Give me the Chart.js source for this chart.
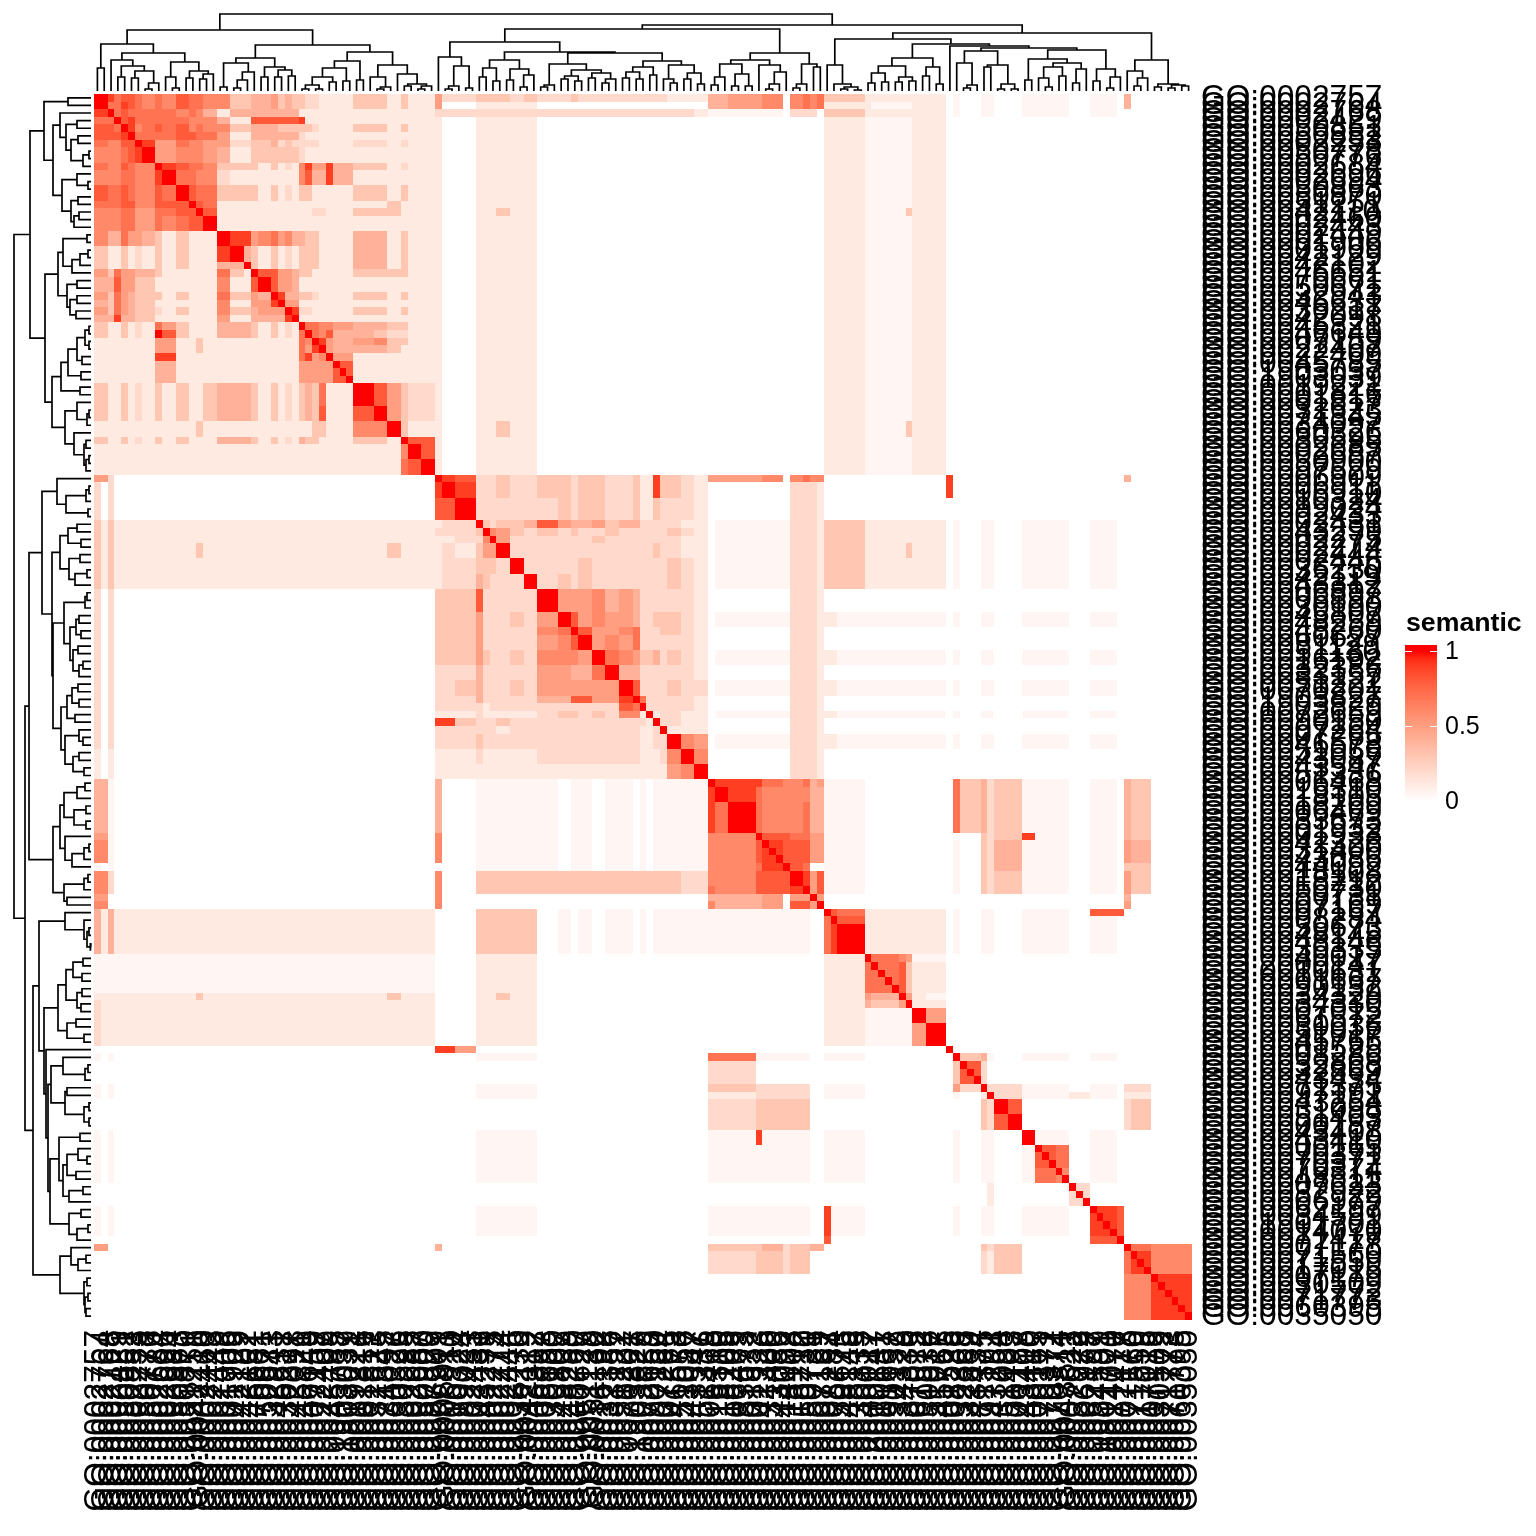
<!DOCTYPE html>
<html>
<head>
<meta charset="utf-8">
<title>semantic</title>
<script src="https://cdn.jsdelivr.net/npm/chart.js@4"></script>
<style>
  html, body { margin: 0; background: #fff; }
  canvas { display: block; }
</style>
</head>
<body>
<canvas id="heatChart" width="1536" height="1536"></canvas>
<script>
// GO ids, same order on rows and columns (most are overlapped in the picture, so estimated)
const goTerms = [
  'GO:0002757','GO:0002764','GO:0002768','GO:0002429','GO:0050851','GO:0050852','GO:0002253','GO:0050778','GO:0050776','GO:0002684',
  'GO:0002696','GO:0002694','GO:0050863','GO:0050870','GO:0051251','GO:0042110','GO:0002460','GO:0002443','GO:0002449','GO:0001906',
  'GO:0001909','GO:0042129','GO:0042102','GO:0046651','GO:0070661','GO:0050671','GO:0032943','GO:0046631','GO:0030217','GO:0042098',
  'GO:0045321','GO:0046649','GO:0007159','GO:0022407','GO:0022409','GO:0045785','GO:1903037','GO:1903039','GO:0019221','GO:0001816',
  'GO:0001817','GO:0032623','GO:0071345','GO:0034097','GO:0060326','GO:0030595','GO:0002685','GO:0002687','GO:0050900','GO:0097529',
  'GO:0006909','GO:0006911','GO:0006910','GO:0010324','GO:0099024','GO:0002433','GO:0002431','GO:0043299','GO:0002275','GO:0002274',
  'GO:0002444','GO:0002446','GO:0036230','GO:0042119','GO:0043312','GO:0006897','GO:0006898','GO:0030100','GO:0045807','GO:0048259',
  'GO:0048260','GO:0060627','GO:0051129','GO:0051130','GO:0016192','GO:0032386','GO:0033157','GO:0051222','GO:0070201','GO:1903827',
  'GO:1903829','GO:0072659','GO:0090150','GO:0007264','GO:0007265','GO:0046578','GO:0051056','GO:0043087','GO:0043547','GO:0051336',
  'GO:0006468','GO:0016310','GO:0018105','GO:0018209','GO:0006469','GO:0033673','GO:0001932','GO:0001933','GO:0042326','GO:0031400',
  'GO:0043086','GO:0044092','GO:0018108','GO:0018212','GO:0050730','GO:0050731','GO:0007169','GO:0007167','GO:0008284','GO:0050673',
  'GO:0048145','GO:0048146','GO:0030335','GO:0040017','GO:2000147','GO:0010631','GO:0001667','GO:0090132','GO:0034329','GO:0034330',
  'GO:0007015','GO:0061572','GO:0030036','GO:0051017','GO:0045765','GO:0001525','GO:0008286','GO:0032868','GO:0032869','GO:0043434',
  'GO:0071375','GO:0097191','GO:0043254','GO:0031098','GO:0051403','GO:0000187','GO:0043408','GO:0043410','GO:0000165','GO:0070371',
  'GO:0070372','GO:0070374','GO:0048511','GO:0007623','GO:0032922','GO:0006979','GO:0062197','GO:0034599','GO:1901701','GO:0014070',
  'GO:0071417','GO:0007178','GO:0071560','GO:0071559','GO:0017015','GO:0007179','GO:0030509','GO:0071772','GO:0071773','GO:0060395',
  'GO:0035050'
];

// where each band of cells starts, in cell numbers. last band runs to goTerms.length
const bandBreaks = [
  0,1,2,3,4,5,6,7,9,10,12,14,15,16,18,20,22,23,24,26,27,28,29,30,31,32,33,34,35,38,41,43,45,46,48,
  50,51,53,56,57,58,59,61,63,65,68,70,71,73,75,77,79,80,81,82,83,84,86,88,
  90,91,93,97,98,101,102,104,105,106,
  107,108,109,113,114,118,119,120,122,
  125,126,127,130,131,132,134,136,138,141,143,146,150,
  151,152,155
];

// semantic value for each code used in the band rows
const levelCodes = ['.','0','1','2','3','4','5','6','7','8','9','X'];
const levelValues = [0,0.05,0.11,0.2,0.3,0.4,0.5,0.6,0.7,0.8,0.9,1];

const w32 = '................................';
const o32 = '11111111111111111111111111111111';
const z32 = '00000000000000000000000000000000';
const a59 = '11111111131111111111111111113111';
const eFaint = '.0.00..000.0.';
const tailA = '1..111111 ............... .......... 111000011 ............. ...';
const tailSpot = '1..111311 ............... .......... 111000311 ............. ...';
const t53 = '......2221 ......... ............. ...';
const t56 = '.000002221 333111111 ' + eFaint + ' ...';
const t59 = '.000002221 333111311 ' + eFaint + ' ...';
const t65f = '.000002221 110000000 ' + eFaint + ' ...';
const b56 = '...000000' + '...............';
const b90 = '00000 00.00.00 .0.00000';
const cLow = '000...... ';

// one string per row band, one character per column band
const bandRows = [
  // rows 0-49
  'XX9788767 68776633 44534332 2111331311' + '52233332 32232222 22222111 44556.6767 333111111 ' + eFaint + ' 4..',
  'XX7798767 68776633 44534332 2111331311' + '5..11111 1............... 44556.6767 111100011 ' + eFaint + ' 4..',
  '99X787777 76764144 44444411 1111111111' + '22222222 22222222 22222221 00000.222. 333111111 ' + eFaint + ' ...',
  '777X89777 77666411 88888891 1111111111' + tailA,
  '8887X9678 78676633 44433333 2111331311' + tailA,
  '88889X777 78877511 44444421 1111111111' + tailA,
  '776688X95 57665522 33423222 2111221211' + tailA,
  '666678 9X5 56665411 33333321 1111111111' + tailA,
  '776687 66X 98776333 31312169 5594331211' + tailA,
  '666677669 X7766211 11111168 4494111111' + tailA,
  '887787668 7X877333 31312133 1111331311' + tailA,
  '777788668 88X87111 11111111 1111113111' + tailA,
  '666677557 788X8111 11111111 2211333111' + tailSpot,
  '666677557 6788X111 11111111 1111111111' + tailA,
  '664475543 13111X99 56756443 3111441311' + tailA,
  '331131213 131119X4 31312133 3111441311' + tailA,
  '331131213 1311144X 31312133 3111441311' + tailA,
  '553755443 11111731 X8855433 1111333311' + tailA,
  '444855331 11111611 8X855411 1111111111' + tailA,
  '553754333 13111733 54X94433 2111331311' + tailA,
  '443754331 11111611 559X5511 1111111111' + tailA,
  '553754332 13111633 4555X922 1111331311' + tailA,
  '444944331 11111511 44449X11 1111111111' + tailA,
  '331131217 53111444 313121X7 7665443311' + tailA,
  '33113121X 83111444 3131217X 7684432211' + tailA,
  '111111115 51131111 11111176 X954563311' + tailA,
  '111111115 51131111 11111175 9X54443111' + tailA,
  '111111119 91111111 11111179 56X5111111' + tailA,
  '111111114 41111111 11111155 5558111111' + tailA,
  '331131213 13113444 31312134 3711X85322' + tailA,
  '331131213 13113444 31312134 38118X5322' + tailA,
  '111111111 11131111 11111111 331166X311' + tailSpot,
  '331131213 13111444 31312143 3111331X88' + tailA,
  '111111111 11111111 11111111 11111116X8' + tailA,
  '111111111 11111111 11111111 111111178X' + tailA,
  // rows 50-89
  '552' + w32 + 'X9822232 23323322 31193321 55556.6766 ......... 9............ 4..',
  '2.2' + w32 + '9X922232 23323322 31193321 ......2221 ......... 9............ ...',
  '2.2' + w32 + '88X22222 22323322 31132221' + t53,
  '313' + o32 + '122X3233 48544534 42222211' + t56,
  '313' + o32 + '2223X653 23232232 22222321' + t56,
  '313' + o32 + '11226X52 22222322 22222211' + t56,
  '313' + a59 + '121355X2 22222222 22232211' + t59,
  '313' + o32 + '1223332X 22223222 22222321' + t56,
  '313' + o32 + '12243222 X2323222 22222321' + t56,
  '2.2' + w32 + '33382222 2X555645 42222221' + t53,
  '2.2' + w32 + '33352223 25X85655 42233321' + t65f,
  '2.2' + w32 + '33352222 267X8556 72223321' + t53,
  '2.2' + w32 + '33352222 2568X565 72222221' + t53,
  '2.2' + w32 + '33353223 26665X76 53342321' + t65f,
  '2.2' + w32 + '22242222 255447X4 42222221' + t53,
  '2.2' + w32 + '22342223 2555555X 82222322' + t65f,
  '2.2' + w32 + '22242222 24488559 X7222221' + t53,
  '2.2' + w32 + '22221222 22222228 7X222221' + t53,
  '2.2' + w32 + '11121111 12332326 61X12211' + t65f,
  '2.2' + w32 + '99322232 22222222 221X2211' + t53,
  '2.2' + w32 + '22222212 22222222 2112X111' + t53,
  '2.2' + w32 + '22232222 22222222 21122X65' + t65f,
  '1.1' + w32 + '11121111 12222222 211126X6' + t53,
  '1.1' + w32 + '11111111 11111111 111115 6X' + t53,
  // rows 90-106
  '440' + w32 + '4..' + b90 + ' X999766 745 ' + cLow + '.7342 33 000.0. 43.',
  '440' + w32 + '4..' + b90 + ' 9X9766 6 644 ' + cLow + '.7342 33 000.0. 43.',
  '440' + w32 + '4..' + b90 + ' 97X766 6744 ' + cLow + '.7342 33 000.0. 43.',
  '550' + w32 + '6..' + b90 + ' 666X887755 ' + cLow + '...32 33 900.0. 43.',
  '660' + w32 + '6..' + b90 + ' 6668 9 88855 ' + cLow + '.0.32 44 000.0. 54.',
  '0.0' + w32 + '...' + b90 + ' 66679X87.. ' + cLow + '.0.32 44 000.0. 33.',
  '662' + w32 + '6..33333 33333333 33333322 666888X958 ' + cLow + '.0.32 33 000.0. 53.',
  '662' + w32 + '6..33333 33333333 33333322 7668889X58 ' + cLow + '.0.32 33 000.0. 53.',
  '55.' + w32 + '6....................... 4444 5.55X5 ......... ............. 4..',
  '66.' + w32 + '6....................... 6444 5.885X ......... ............. 5..',
  // rows 107-124
  '414' + o32 + '...33333 3.0.0.00 .0.00000 00000000.. X87111111 .0.00..000.88 ...',
  '414' + o32 + '...33333 3.0.0.00 .0.00000 00000000.. 7X8111111 ' + eFaint + ' ...',
  '414' + o32 + '...33333 3.0.0.00 .0.00000 00000000.. 79X111111 ' + eFaint + ' ...',
  '000' + z32 + '...11111 1............... .......... 111X76500 ............. ...',
  '000' + z32 + '...11111 1............... .......... 111778311 ............. ...',
  '111' + a59 + '...11131 1............... .......... 111 54X510 ............. ...',
  '211' + o32 + '...11111 1............... .......... 111435X11 ............. ...',
  '211' + o32 + '...11111 1............... .......... 1110000X5 ............. ...',
  '211' + o32 + '...11111 1............... .......... 11100005X ............. ...',
  // rows 125-150
  '...' + w32 + '995.....................  .......... ......... X............ ...',
  '0.0' + w32 + b56 + ' 77700000.. 000...... .X340..000.0. ...',
  '...' + w32 + '........................ 222....... ......... .382......... ...',
  '0.0' + w32 + b56 + ' 33322222.. 000...... .52X222000.0. 22.',
  '0.0' + w32 + b56 + ' 11122222.. 000...... .0.1X22000 10. 11.',
  '...' + w32 + '........................ 22233333.. ......... ...32X8...... 23.',
  '...' + w32 + '........................ 22233333.. ......... ...328X...... 23.',
  '0.0' + w32 + b56 + ' 00090000.. 000...... .0.00..X00.0. ...',
  '0.0' + w32 + b56 + ' 00000000.. 000...... .0.00..087.0. ...',
  '0.0' + w32 + b56 + ' 00000000.. 000...... .0.00..076.0. ...',
  '...' + w32 + '........................ .......... ......... ....1.....2.. ...',
  '0.0' + w32 + b56 + ' 00000000.. 900...... .0.00..000.98 ...',
  '...' + w32 + '........................ .......... 8........ ...........8X ...',
  // rows 151-160
  '55.' + w32 + '4....................... 3333423344 ......... ...3233...... X76',
  '...' + w32 + '........................ 2223323 3.. ......... ...2133...... 796',
  '...' + w32 + '........................ .......... ......... ............. 669'
];

// cluster tree, same on top and on the left: [height, child, child], 0 is a leaf
const treeA = [61,
  [47, [23,0,0],
    [38,
      [31,0,[25,[14,0,0],[20,[13,0,0],[8,[2,0,0],0]]]],
      [29,[14,0,[3,0,0]],[20,[13,0,0],[17,[12,0,0],0]]]]],
  [46,
    [33,
      [28,[4,0,0],[19,[11,[3,0,0],0],0]],
      [24,[14,0,0],[21,[14,0,0],[15,0,0]]]],
    [39,
      [30,[23,[14,[6,[2,0,0],[2,0,0]],[9,0,0]],[10,0,0]],[11,0,0]],
      [26,[14,0,[4,[2,0,0],0]],[17,0,[7,[5,0,0],[5,[2,0,0],0]]]]]]];
const treeB = [49,
  [34,0,[25,[5,[2,0,0],0],[3,0,0]]],
  [39,
    [31,[23,[14,0,0],[10,0,0]],[22,[11,0,0],[16,[4,0,0],0]]],
    [38,
      [27,[6,[4,0,0],0],[21,[15,[12,0,0],[10,0,0]],[18,[13,0,0],[12,[8,0,0],0]]]],
      [30,[24,[19,[13,0,0],[12,0,0]],[16,0,0]],[26,[12,0,[8,0,0]],[18,[12,0,0],[7,0,0]]]]]]];
const treeC = [38,
  [31,
    [27,[14,[6,0,0],0],[17,[5,0,0],[5,0,0]]],
    [26,0,[19,[7,[2,0,0],0],0]]],
  [27,[7,[3,0,0],0],[24,0,0]]];
const treeD = [26,0,[7,0,[4,[2,0,0],[1,0,0]]]];
const treeD2 = [33,
  [25,[18,[8,0,0],[9,0,0]],[14,[9,0,0],[10,0,0]]],
  [24,[15,0,0],[7,0,0]]];
const treeE = [45,0,
  [43,
    [40,[28,0,[6,[3,0,0],0]],[26,[24,0,0],[7,[2,0,0],[2,0,0]]]],
    [41,
      [32,[11,0,0],[28,[24,[13,0,[4,0,0]],[15,0,0]],[22,[8,0,0],0]]],
      [22,[10,0,0],[14,[3,0,0],0]]]]];
const treeF = [31,[20,0,[13,[5,0,0],0]],[7,[4,0,0],[6,[3,0,0],[5,0,0]]]];
const clusterTree = [77, treeA, [66, [62,treeB,treeC], [58,[52,treeD,[47,treeD2,treeE]],treeF]]];

const legendTicks = [0, 0.5, 1];
const legendLabels = ['0', '0.5', '1'];

const fontName = '"Liberation Sans", Arial, sans-serif';
const rowCount = goTerms.length;

// white to red, interpolated in LAB like the colour ramp of the original
function semanticColor(v) {
  const L = 100 - 46.77 * v, a = 80.1 * v, b = 67.2 * v;
  const fy = (L + 16) / 116, fx = fy + a / 500, fz = fy - b / 200;
  const f = t => (t > 0.2069 ? t * t * t : (t - 16 / 116) / 7.787);
  const X = 0.9505 * f(fx), Y = f(fy), Z = 1.089 * f(fz);
  const lin = [3.2406 * X - 1.5372 * Y - 0.4986 * Z, -0.9689 * X + 1.8758 * Y + 0.0415 * Z, 0.0557 * X - 0.204 * Y + 1.057 * Z];
  const rgb = lin.map(c => {
    c = Math.min(1, Math.max(0, c));
    return Math.round(255 * (c <= 0.0031308 ? 12.92 * c : 1.055 * Math.pow(c, 1 / 2.4) - 0.055));
  });
  return 'rgb(' + rgb.join(',') + ')';
}

function bandOf(i) {
  let b = 0;
  while (b + 1 < bandBreaks.length && bandBreaks[b + 1] <= i) b++;
  return b;
}

// expand the bands to one point per cell, white cells left out
const cleanRows = bandRows.map(r => r.replace(/\s/g, ''));
const cellPoints = [];
for (let r = 0; r < rowCount; r++) {
  const row = cleanRows[bandOf(r)] || '';
  for (let c = 0; c < rowCount; c++) {
    const code = c === r ? 'X' : (row[bandOf(c)] || '.');
    const v = levelValues[levelCodes.indexOf(code)];
    if (v > 0) cellPoints.push({ x: c + 0.5, y: r + 0.5, v: v });
  }
}

// walk the tree, returns the leaf position and height of a node, fills segs with line points
function walkTree(node, state, segs, toPoint) {
  if (node === 0) {
    state.leaf++;
    return { pos: state.leaf - 0.5, h: 0 };
  }
  const a = walkTree(node[1], state, segs, toPoint);
  const b = walkTree(node[2], state, segs, toPoint);
  const h = node[0];
  segs.push(toPoint(a.pos, a.h), toPoint(a.pos, h), toPoint(b.pos, h), toPoint(b.pos, b.h), { x: NaN, y: NaN });
  return { pos: (a.pos + b.pos) / 2, h: h };
}

const topSegs = [];
walkTree(clusterTree, { leaf: 0 }, topSegs, (p, h) => ({ x: p, y: h }));
const leftSegs = [];
walkTree(clusterTree, { leaf: 0 }, leftSegs, (p, h) => ({ x: h, y: p }));

const heatCells = {
  id: 'heatCells',
  beforeDatasetsDraw(chart) {
    const ctx = chart.ctx, xs = chart.scales.x, ys = chart.scales.y;
    ctx.save();
    chart.data.datasets[0].data.forEach(p => {
      const x0 = Math.round(xs.getPixelForValue(p.x - 0.5));
      const x1 = Math.round(xs.getPixelForValue(p.x + 0.5));
      const y0 = Math.round(ys.getPixelForValue(p.y - 0.5));
      const y1 = Math.round(ys.getPixelForValue(p.y + 0.5));
      ctx.fillStyle = semanticColor(p.v);
      ctx.fillRect(x0, y0, x1 - x0, y1 - y0);
    });
    ctx.restore();
  }
};

const colorLegend = {
  id: 'colorLegend',
  afterDraw(chart) {
    const ctx = chart.ctx;
    const left = 1405, right = 1437, top = 645, y0 = 801, y1 = 651;
    const toY = v => y0 + (y1 - y0) * v;
    ctx.save();
    const grad = ctx.createLinearGradient(0, y0, 0, y1);
    for (let i = 0; i <= 20; i++) grad.addColorStop(i / 20, semanticColor(i / 20));
    ctx.fillStyle = grad;
    ctx.fillRect(left, top, right - left, y0 - top);
    ctx.strokeStyle = '#fff';
    ctx.lineWidth = 1;
    legendTicks.forEach((v, i) => {
      const y = Math.round(toY(v)) + 0.5;
      if (v > 0) {
        ctx.beginPath();
        ctx.moveTo(left, y); ctx.lineTo(left + 7, y);
        ctx.moveTo(right - 7, y); ctx.lineTo(right, y);
        ctx.stroke();
      }
      ctx.fillStyle = '#000';
      ctx.font = '25px ' + fontName;
      ctx.textAlign = 'left';
      ctx.textBaseline = 'middle';
      ctx.fillText(legendLabels[i], 1445, toY(v) + 1);
    });
    ctx.font = 'bold 26.7px ' + fontName;
    ctx.textBaseline = 'alphabetic';
    ctx.fillText('semantic', 1406, 631);
    ctx.restore();
  }
};

const tickSetup = scale => {
  scale.ticks = goTerms.map((_, i) => ({ value: i + 0.5 }));
};

new Chart(document.getElementById('heatChart').getContext('2d'), {
  type: 'scatter',
  data: {
    datasets: [
      { label: 'cells', data: cellPoints, pointRadius: 0, showLine: false, xAxisID: 'x', yAxisID: 'y' },
      { label: 'top tree', data: topSegs, showLine: true, pointRadius: 0, borderColor: '#000', borderWidth: 1.7, spanGaps: false, xAxisID: 'x', yAxisID: 'hTop' },
      { label: 'left tree', data: leftSegs, showLine: true, pointRadius: 0, borderColor: '#000', borderWidth: 1.7, spanGaps: false, xAxisID: 'hLeft', yAxisID: 'y' }
    ]
  },
  options: {
    responsive: false,
    animation: false,
    events: [],
    layout: { padding: { left: 8, top: 8, right: 0, bottom: 0 } },
    plugins: { legend: { display: false }, tooltip: { enabled: false } },
    scales: {
      x: {
        type: 'linear', position: 'bottom', min: -12.61, max: 161,
        grid: { display: false, drawTicks: false }, border: { display: false },
        afterBuildTicks: tickSetup,
        afterFit: s => { s.height = 216; s.paddingLeft = 0; s.paddingRight = 0; },
        ticks: {
          autoSkip: false, minRotation: 90, maxRotation: 90, padding: 10,
          color: '#000', font: { family: fontName, size: 31.7 },
          callback: v => goTerms[Math.round(v - 0.5)]
        }
      },
      y: {
        type: 'linear', position: 'right', reverse: true, min: -11.29, max: 161,
        grid: { display: false, drawTicks: false }, border: { display: false },
        afterBuildTicks: tickSetup,
        afterFit: s => { s.width = 344; s.paddingTop = 0; s.paddingBottom = 0; },
        ticks: {
          autoSkip: false, padding: 9,
          color: '#000', font: { family: fontName, size: 31.7 },
          callback: v => goTerms[Math.round(v - 0.5)]
        }
      },
      hTop: { type: 'linear', axis: 'y', display: false, min: -1229, max: 83 },
      hLeft: { type: 'linear', axis: 'x', display: false, reverse: true, min: -1101, max: 83 }
    }
  },
  plugins: [heatCells, colorLegend]
});
</script>
</body>
</html>
